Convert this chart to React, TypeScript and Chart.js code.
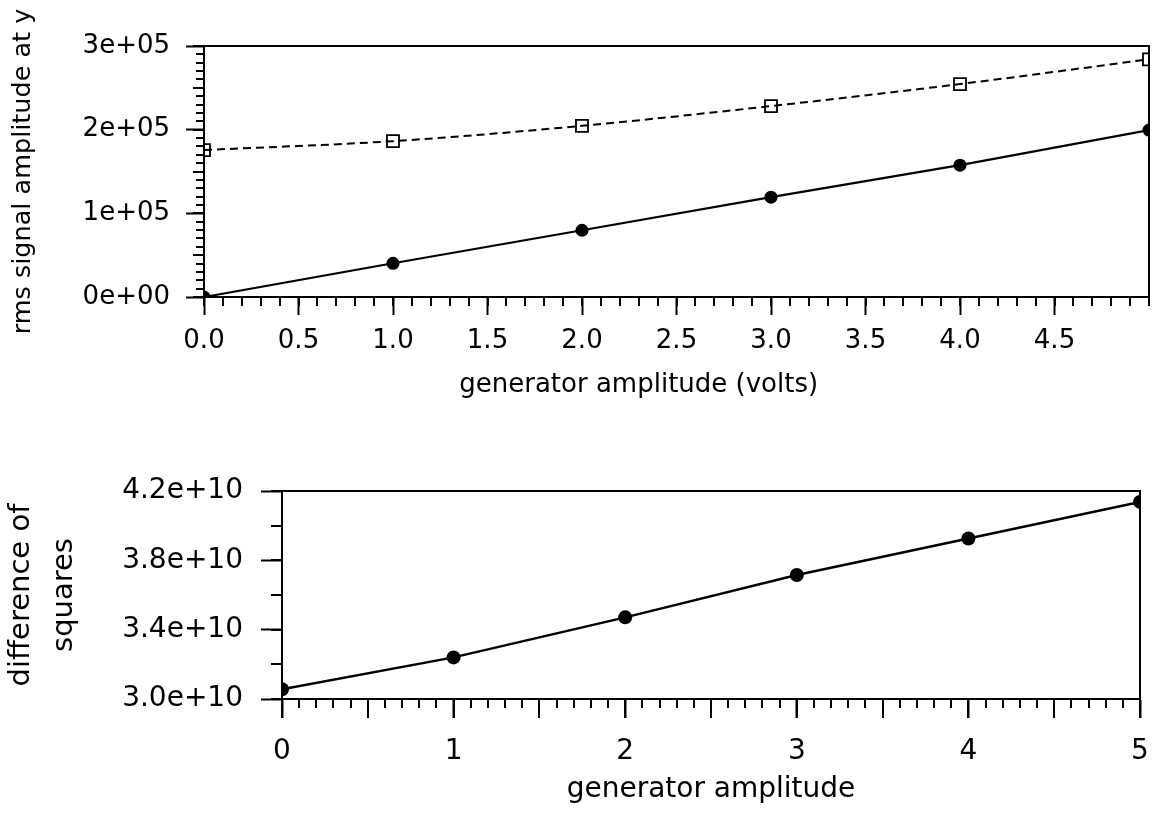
import React, { useEffect, useRef } from 'react';
import { Chart, registerables } from 'chart.js';

Chart.register(...registerables);

const FONT = 'DejaVu Sans';

// Data
const amplitudes = [0, 1, 2, 3, 4, 5];
const rmsSignal = [0, 40300, 79800, 119300, 157600, 199500];
const rmsTotal = [175600, 186300, 204600, 228200, 254500, 284100];
const diffSquares = [3.056e10, 3.24e10, 3.471e10, 3.715e10, 3.926e10, 4.137e10];

// Tick values / labels
const topXTickValues = [0, 0.5, 1, 1.5, 2, 2.5, 3, 3.5, 4, 4.5];
const topXTickLabels = ['0.0', '0.5', '1.0', '1.5', '2.0', '2.5', '3.0', '3.5', '4.0', '4.5'];
const topYTickValues = [0, 1e5, 2e5, 3e5];
const topYTickLabels = ['0e+00', '1e+05', '2e+05', '3e+05'];
const botXTickValues = [0, 1, 2, 3, 4, 5];
const botXTickLabels = ['0', '1', '2', '3', '4', '5'];
const botYTickValues = [3.0e10, 3.4e10, 3.8e10, 4.2e10];
const botYTickLabels = ['3.0e+10', '3.4e+10', '3.8e+10', '4.2e+10'];

const topXTitle = 'generator amplitude (volts)';
const topYTitle = 'rms signal amplitude at y';
const botXTitle = 'generator amplitude';
const botYTitle = ['difference of', 'squares'];

type TickSpec = { scale: 'x' | 'y'; from: number; to: number; step: number; len: number };

function makeFramePlugin(specs: TickSpec[], extraTitle?: { text: string; at: number; below: number; size: number }) {
  return {
    id: 'frame',
    afterDraw(chart: any) {
      const { ctx, chartArea } = chart;
      ctx.save();
      ctx.strokeStyle = '#000';
      ctx.lineWidth = 2;
      ctx.setLineDash([]);
      for (const s of specs) {
        const sc = chart.scales[s.scale];
        const n = Math.round((s.to - s.from) / s.step);
        for (let i = 0; i <= n; i++) {
          const v = s.from + i * s.step;
          const p = Math.round(sc.getPixelForValue(v));
          ctx.beginPath();
          if (s.scale === 'x') {
            ctx.moveTo(p, chartArea.bottom);
            ctx.lineTo(p, chartArea.bottom + s.len);
          } else {
            ctx.moveTo(chartArea.left, p);
            ctx.lineTo(chartArea.left - s.len, p);
          }
          ctx.stroke();
        }
      }
      ctx.strokeRect(chartArea.left, chartArea.top, chartArea.right - chartArea.left, chartArea.bottom - chartArea.top);
      if (extraTitle) {
        ctx.fillStyle = '#000';
        ctx.font = `${extraTitle.size}px "${FONT}"`;
        ctx.textAlign = 'center';
        ctx.textBaseline = 'alphabetic';
        ctx.fillText(extraTitle.text, chart.scales.x.getPixelForValue(extraTitle.at), chartArea.bottom + extraTitle.below);
      }
      ctx.restore();
    },
  };
}

function labelFor(values: number[], labels: string[]) {
  return (v: any) => {
    const i = values.findIndex((x) => Math.abs(x - v) < 1e-9 * Math.max(1, Math.abs(x)));
    return i >= 0 ? labels[i] : '';
  };
}

function TopChart() {
  const ref = useRef<HTMLCanvasElement>(null);
  useEffect(() => {
    const chart = new Chart(ref.current as HTMLCanvasElement, {
      type: 'line',
      data: {
        datasets: [
          {
            data: amplitudes.map((x, i) => ({ x, y: rmsTotal[i] })),
            borderColor: '#000',
            borderWidth: 2,
            borderDash: [8, 5],
            cubicInterpolationMode: 'monotone',
            pointStyle: 'rect',
            pointRadius: 8.5,
            pointBorderWidth: 1.8,
            pointBackgroundColor: 'rgba(0,0,0,0)',
            pointBorderColor: '#000',
            clip: 0,
          } as any,
          {
            data: amplitudes.map((x, i) => ({ x, y: rmsSignal[i] })),
            borderColor: '#000',
            borderWidth: 2.2,
            tension: 0,
            pointStyle: 'circle',
            pointRadius: 6.5,
            pointBorderWidth: 0,
            pointBackgroundColor: '#000',
            pointBorderColor: '#000',
            clip: 0,
          } as any,
        ],
      },
      options: {
        animation: false,
        responsive: false,
        events: [],
        layout: { autoPadding: false, padding: { top: 46, right: 4, left: 0, bottom: 0 } },
        plugins: { legend: { display: false }, tooltip: { enabled: false } },
        scales: {
          x: {
            type: 'linear',
            min: 0,
            max: 5,
            afterBuildTicks: (s: any) => {
              s.ticks = topXTickValues.map((v) => ({ value: v }));
            },
            afterFit: (s: any) => {
              s.height = 133;
              s.paddingLeft = 0;
              s.paddingRight = 0;
            },
            ticks: {
              autoSkip: false,
              maxRotation: 0,
              padding: 11,
              color: '#000',
              font: { family: FONT, size: 26 },
              callback: labelFor(topXTickValues, topXTickLabels),
            },
            grid: { drawOnChartArea: false, tickLength: 18, tickWidth: 2, tickColor: '#000' },
            border: { display: true, color: '#000', width: 2 },
          },
          y: {
            type: 'linear',
            min: 0,
            max: 3e5,
            afterBuildTicks: (s: any) => {
              s.ticks = topYTickValues.map((v) => ({ value: v }));
            },
            afterFit: (s: any) => {
              s.width = 204;
              s.paddingTop = 0;
              s.paddingBottom = 0;
            },
            ticks: {
              autoSkip: false,
              padding: 16,
              color: '#000',
              font: { family: FONT, size: 26 },
              callback: labelFor(topYTickValues, topYTickLabels),
            },
            grid: { drawOnChartArea: false, tickLength: 18, tickWidth: 2, tickColor: '#000' },
            border: { display: true, color: '#000', width: 2 },
            title: {
              display: true,
              text: topYTitle,
              color: '#000',
              font: { family: FONT, size: 25.5, lineHeight: 1.2 },
              padding: { top: 8, bottom: 0 },
            },
          },
        },
      },
      plugins: [
        makeFramePlugin(
          [
            { scale: 'x', from: 0, to: 5, step: 0.1, len: 9 },
            { scale: 'y', from: 0, to: 3e5, step: 1e4, len: 8 },
            { scale: 'y', from: 0, to: 3e5, step: 5e4, len: 11 },
          ],
          { text: topXTitle, at: 2.3, below: 95, size: 26 }
        ),
      ],
    } as any);
    return () => chart.destroy();
  }, []);
  return <canvas ref={ref} width={1153} height={430} style={{ display: 'block', width: 1153, height: 430 }} />;
}

function BottomChart() {
  const ref = useRef<HTMLCanvasElement>(null);
  useEffect(() => {
    const chart = new Chart(ref.current as HTMLCanvasElement, {
      type: 'line',
      data: {
        datasets: [
          {
            data: amplitudes.map((x, i) => ({ x, y: diffSquares[i] })),
            borderColor: '#000',
            borderWidth: 2.5,
            tension: 0,
            pointStyle: 'circle',
            pointRadius: 7,
            pointBorderWidth: 0,
            pointBackgroundColor: '#000',
            pointBorderColor: '#000',
            clip: 0,
          } as any,
        ],
      },
      options: {
        animation: false,
        responsive: false,
        events: [],
        layout: { autoPadding: false, padding: { top: 61, right: 13, left: 0, bottom: 0 } },
        plugins: { legend: { display: false }, tooltip: { enabled: false } },
        scales: {
          x: {
            type: 'linear',
            min: 0,
            max: 5,
            afterBuildTicks: (s: any) => {
              s.ticks = botXTickValues.map((v) => ({ value: v }));
            },
            afterFit: (s: any) => {
              s.height = 120;
              s.paddingLeft = 0;
              s.paddingRight = 0;
            },
            ticks: {
              autoSkip: false,
              maxRotation: 0,
              padding: 17,
              color: '#000',
              font: { family: FONT, size: 28 },
              callback: labelFor(botXTickValues, botXTickLabels),
            },
            grid: { drawOnChartArea: false, tickLength: 19, tickWidth: 2, tickColor: '#000' },
            border: { display: true, color: '#000', width: 2 },
            title: {
              display: true,
              text: botXTitle,
              color: '#000',
              font: { family: FONT, size: 28, lineHeight: 1.2 },
              padding: { top: 0, bottom: 12 },
            },
          },
          y: {
            type: 'linear',
            min: 3.0e10,
            max: 4.2e10,
            afterBuildTicks: (s: any) => {
              s.ticks = botYTickValues.map((v) => ({ value: v }));
            },
            afterFit: (s: any) => {
              s.width = 282;
              s.paddingTop = 0;
              s.paddingBottom = 0;
            },
            ticks: {
              autoSkip: false,
              padding: 18,
              color: '#000',
              font: { family: FONT, size: 28 },
              callback: labelFor(botYTickValues, botYTickLabels),
            },
            grid: { drawOnChartArea: false, tickLength: 21, tickWidth: 2, tickColor: '#000' },
            border: { display: true, color: '#000', width: 2 },
            title: {
              display: true,
              text: botYTitle,
              color: '#000',
              font: { family: FONT, size: 29, lineHeight: 1.48 },
              padding: { top: 0, bottom: 0 },
            },
          },
        },
      },
      plugins: [
        makeFramePlugin([
          { scale: 'x', from: 0, to: 5, step: 0.1, len: 9 },
          { scale: 'x', from: 0, to: 5, step: 0.5, len: 19 },
          { scale: 'y', from: 3.0e10, to: 4.2e10, step: 0.2e10, len: 11 },
        ]),
      ],
    } as any);
    return () => chart.destroy();
  }, []);
  return <canvas ref={ref} width={1153} height={389} style={{ display: 'block', width: 1153, height: 389 }} />;
}

export default function App() {
  return (
    <div style={{ position: 'absolute', left: 0, top: 0, width: 1153, height: 819, background: '#fff', overflow: 'hidden' }}>
      <TopChart />
      <BottomChart />
    </div>
  );
}
